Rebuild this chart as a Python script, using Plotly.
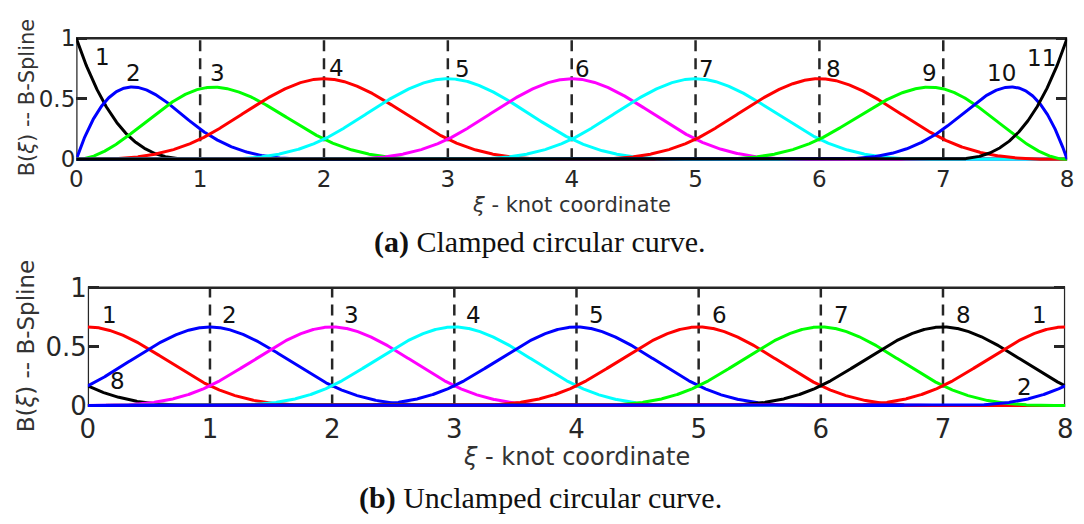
import numpy as np
import plotly.graph_objects as go

# Cubic B-spline basis on [0, 8]
degree = 3
x_min, x_max = 0, 8

# (a) clamped knot vector -> 11 basis functions
knots_a = [0, 0, 0, 0, 1, 2, 3, 4, 5, 6, 7, 8, 8, 8, 8]
colors_a = ["#000000", "#0000ff", "#00ff00", "#ff0000", "#00ffff", "#ff00ff",
            "#00ffff", "#ff0000", "#00ff00", "#0000ff", "#000000"]
labels_a = ["1", "2", "3", "4", "5", "6", "7", "8", "9", "10", "11"]
label_x_a = [0.21, 0.46, 1.14, 2.10, 3.12, 4.09, 5.09, 6.11, 6.89, 7.47, 7.79]
label_y_a = [0.85, 0.71, 0.71, 0.755, 0.746, 0.746, 0.746, 0.746, 0.715, 0.715, 0.84]

# (b) uniform (unclamped) knot vector; functions wrap onto 8 periodic ones
knots_b = [-3, -2, -1, 0, 1, 2, 3, 4, 5, 6, 7, 8, 9, 10, 11]
colors_b = ["#000000", "#ff0000", "#0000ff", "#ff00ff", "#00ffff", "#0000ff",
            "#ff0000", "#00ff00", "#000000", "#ff0000", "#0000ff"]
labels_b = ["1", "8", "2", "3", "4", "5", "6", "7", "8", "1", "2"]
label_x_b = [0.18, 0.24, 1.16, 2.16, 3.16, 4.16, 5.17, 6.17, 7.17, 7.79, 7.67]
label_y_b = [0.77, 0.21, 0.77, 0.77, 0.77, 0.77, 0.77, 0.77, 0.77, 0.77, 0.16]

# interior knots shown as dashed guides
guide_knots = [1, 2, 3, 4, 5, 6, 7]
x_ticks = [0, 1, 2, 3, 4, 5, 6, 7, 8]
y_ticks = [0, 0.5, 1]
y_tick_text = ["0", "0.5", "1"]


def basis_functions(knots, p, x):
    """Cox-de Boor recursion; returns array (n_basis, len(x))."""
    t = np.asarray(knots, dtype=float)
    m = len(t) - 1
    B = np.zeros((m, len(x)))
    for i in range(m):
        B[i] = ((t[i] <= x) & (x < t[i + 1])).astype(float)
    last = max(i for i in range(m) if t[i] < t[i + 1])
    B[last, x == t[last + 1]] = 1.0
    for k in range(1, p + 1):
        Bn = np.zeros((m - k, len(x)))
        for i in range(m - k):
            d1 = t[i + k] - t[i]
            d2 = t[i + k + 1] - t[i + 1]
            left = (x - t[i]) / d1 * B[i] if d1 > 0 else 0.0
            right = (t[i + k + 1] - x) / d2 * B[i + 1] if d2 > 0 else 0.0
            Bn[i] = left + right
        B = Bn
    return B


xs = np.linspace(x_min, x_max, 1601)
basis_a = basis_functions(knots_a, degree, xs)
basis_b = basis_functions(knots_b, degree, xs)

ink = "#262626"
fig = go.Figure()


def add_guides(xa, ya):
    gx, gy = [], []
    for k in guide_knots:
        gx += [k, k, None]
        gy += [0, 1, None]
    fig.add_trace(go.Scatter(x=gx, y=gy, mode="lines", xaxis=xa, yaxis=ya,
                             line=dict(color=ink, width=2.5, dash="11px,7px"),
                             hoverinfo="skip", showlegend=False))


add_guides("x", "y")
for vals, col in zip(basis_a, colors_a):
    fig.add_trace(go.Scatter(x=xs, y=vals, mode="lines", xaxis="x", yaxis="y",
                             line=dict(color=col, width=3), showlegend=False))

add_guides("x2", "y2")
for vals, col in zip(basis_b, colors_b):
    fig.add_trace(go.Scatter(x=xs, y=vals, mode="lines", xaxis="x2", yaxis="y2",
                             line=dict(color=col, width=3), showlegend=False))

# empty traces so the right-hand tick axes are rendered
for xa, ya in (("x", "y3"), ("x2", "y4")):
    fig.add_trace(go.Scatter(x=[None], y=[None], mode="lines", xaxis=xa, yaxis=ya,
                             hoverinfo="skip", showlegend=False))

W, H = 1084, 524
EDGE = 2  # px of headroom so curves lying on the frame are not clipped


def px_x(v):
    return v / W


def px_y(v):
    return 1 - v / H


def xaxis_style(left, right, size, standoff):
    return dict(domain=[px_x(left), px_x(right)], range=[x_min, x_max],
                tickvals=x_ticks, showgrid=False, zeroline=False,
                showline=False, ticks="", ticklabelstandoff=standoff,
                tickfont=dict(family="DejaVu Sans", size=size, color=ink))


def yaxis_style(top, bottom, size, anchor):
    pad = EDGE / (bottom - top)
    return dict(domain=[px_y(bottom + EDGE), px_y(top - EDGE)],
                range=[-pad, 1 + pad],
                tickvals=y_ticks, ticktext=y_tick_text, showgrid=False,
                zeroline=False, showline=False,
                ticks="inside", ticklen=11, tickwidth=2.5,
                tickcolor=ink, layer="below traces", anchor=anchor,
                tickfont=dict(family="DejaVu Sans", size=size, color=ink))


def right_ticks(base, top, bottom, anchor):
    pad = EDGE / (bottom - top)
    return dict(overlaying=base, side="right", anchor=anchor,
                range=[-pad, 1 + pad], tickvals=y_ticks,
                showticklabels=False, showgrid=False, zeroline=False,
                showline=False, ticks="inside", ticklen=11, tickwidth=2.5,
                tickcolor=ink, layer="below traces")


fig.update_layout(
    width=W, height=H, margin=dict(l=0, r=0, t=0, b=0),
    paper_bgcolor="white", plot_bgcolor="white", showlegend=False,
    xaxis=dict(xaxis_style(69.3, 1075, 23, 2), anchor="y"),
    yaxis=yaxis_style(26.7, 154, 23, "x"),
    xaxis2=dict(xaxis_style(81, 1073, 26, 4), anchor="y2"),
    yaxis2=yaxis_style(289, 413, 26, "x2"),
    yaxis3=right_ticks("y", 26.7, 154, "x"),
    yaxis4=right_ticks("y2", 289, 413, "x2"),
)

# plot frames drawn beneath the curves
for xr, yr in (("x", "y"), ("x2", "y2")):
    fig.add_shape(type="rect", xref=xr, yref=yr, x0=x_min, x1=x_max, y0=0, y1=1,
                  line=dict(color=ink, width=2.5), layer="below")

ann = []
for t, lx, ly in zip(labels_a, label_x_a, label_y_a):
    ann.append(dict(x=lx, y=ly, xref="x", yref="y", text=t, showarrow=False,
                    xanchor="center", yanchor="middle",
                    font=dict(family="DejaVu Sans", size=23, color="#111")))
for t, lx, ly in zip(labels_b, label_x_b, label_y_b):
    ann.append(dict(x=lx, y=ly, xref="x2", yref="y2", text=t, showarrow=False,
                    xanchor="center", yanchor="middle",
                    font=dict(family="DejaVu Sans", size=23, color="#111")))


def note(xp, yp, text, size, family="DejaVu Sans", angle=0, color="#333"):
    return dict(x=px_x(xp), y=px_y(yp), xref="paper", yref="paper",
                xanchor="center", yanchor="middle", textangle=angle,
                text=text, showarrow=False,
                font=dict(family=family, size=size, color=color))


# axis titles and captions
ann += [
    note(19, 89, "B(<i>ξ</i>) -- B-Spline", 21, angle=-90),
    note(572, 202, "<i>ξ</i> - knot coordinate", 21),
    note(18, 350, "B(<i>ξ</i>) -- B-Spline", 23, angle=-90),
    note(577, 467, "<i>ξ</i> - knot coordinate", 24),
    note(540, 241, "<b>(a)</b> Clamped circular curve.", 30,
         family="Liberation Serif", color="#111"),
    note(540, 510, "<b>(b)</b> Unclamped circular curve.", 30,
         family="Liberation Serif", color="#111"),
]
fig.update_layout(annotations=ann)

fig.write_html("out.html")
